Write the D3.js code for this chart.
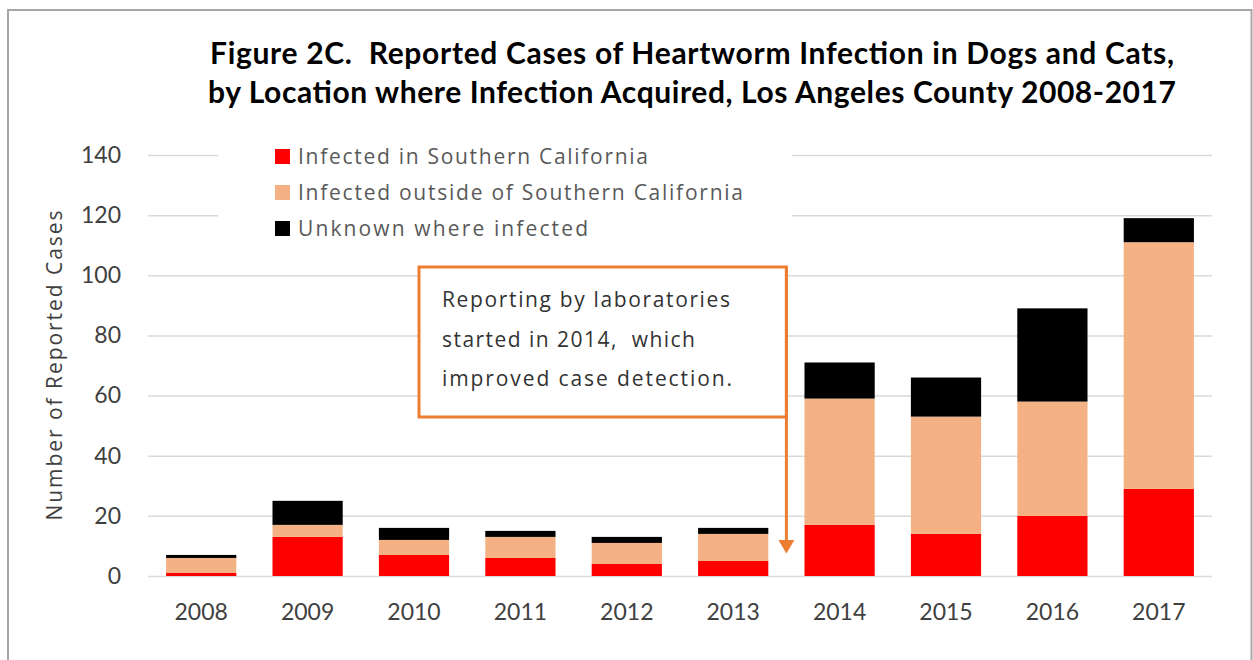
<!DOCTYPE html>
<html>
<head>
<meta charset="utf-8">
<script src="https://cdn.jsdelivr.net/npm/d3@7"></script>
<style>
  html, body { margin: 0; padding: 0; background: #fff; }
  svg { display: block; }
  svg text { white-space: pre; }
</style>
</head>
<body>
<div id="chart"></div>
<script>
// Heartworm cases by where the infection was acquired, LA County 2008-2017
const years = ['2008', '2009', '2010', '2011', '2012', '2013', '2014', '2015', '2016', '2017'];
const inSoCal = [1, 13, 7, 6, 4, 5, 17, 14, 20, 29];
const outsideSoCal = [5, 4, 5, 7, 7, 9, 42, 39, 38, 82];
const unknown = [1, 8, 4, 2, 2, 2, 12, 13, 31, 8];
const seriesNames = ['Infected in Southern California', 'Infected outside of Southern California', 'Unknown where infected'];
const seriesColors = ['#ff0000', '#f4b183', '#000000'];
const yTicks = [0, 20, 40, 60, 80, 100, 120, 140];
const titleLines = [
  'Figure 2C.  Reported Cases of Heartworm Infection in Dogs and Cats,',
  'by Location where Infection Acquired, Los Angeles County 2008-2017'
];
const noteLines = ['Reporting by laboratories', 'started in 2014,  which', 'improved case detection.'];

const titleWidths = [964, 968];
const legendWidths = [350, 445, 290];
const noteWidths = [288, 253, 290];

const W = 1253, H = 660;
const FONT = 'Lato, "Open Sans", sans-serif';
const WIDE = '"Open Sans", Lato, sans-serif';
const plot = { left: 148, right: 1212, top: 155, bottom: 576 };

const svg = d3.select('#chart').append('svg')
  .attr('width', W).attr('height', H)
  .attr('font-family', FONT);

svg.append('rect').attr('width', W).attr('height', H).attr('fill', '#fff');

// outer frame (bottom edge runs off the picture)
svg.append('rect')
  .attr('x', 8).attr('y', 10)
  .attr('width', 1243.5).attr('height', H + 10)
  .attr('fill', 'none').attr('stroke', '#a6a6a6').attr('stroke-width', 2);

const x = d3.scaleBand()
  .domain(years)
  .range([plot.left, plot.right])
  .paddingInner(0.34)
  .paddingOuter(0.17);

const y = d3.scaleLinear()
  .domain([0, 140])
  .range([plot.bottom, plot.top]);

// y axis with gridlines
const yAxis = svg.append('g')
  .attr('transform', `translate(${plot.left},0)`)
  .call(d3.axisLeft(y).tickValues(yTicks).tickSize(-(plot.right - plot.left)).tickPadding(27));
yAxis.select('.domain').remove();
yAxis.selectAll('.tick line').attr('stroke', '#d9d9d9').attr('stroke-width', 1.5);
yAxis.selectAll('.tick text')
  .attr('fill', '#404040').attr('font-size', 23).attr('font-family', FONT);

// x axis labels
const xAxis = svg.append('g')
  .attr('transform', `translate(0,${plot.bottom})`)
  .call(d3.axisBottom(x).tickSize(0).tickPadding(28));
xAxis.select('.domain').remove();
xAxis.selectAll('.tick text')
  .attr('fill', '#404040').attr('font-size', 23).attr('font-family', FONT);

// stacked bars
const rows = years.map((yr, i) => ({ year: yr, s0: inSoCal[i], s1: outsideSoCal[i], s2: unknown[i] }));
const stacked = d3.stack().keys(['s0', 's1', 's2'])(rows);

svg.append('g').selectAll('g')
  .data(stacked)
  .join('g')
  .attr('fill', (d, i) => seriesColors[i])
  .selectAll('rect')
  .data(d => d)
  .join('rect')
  .attr('x', d => x(d.data.year))
  .attr('width', x.bandwidth())
  .attr('y', d => y(d[1]))
  .attr('height', d => y(d[0]) - y(d[1]));

// y axis title
svg.append('text')
  .attr('transform', `translate(62,${(plot.top + plot.bottom) / 2}) rotate(-90)`)
  .attr('x', -155)
  .attr('font-family', WIDE)
  .attr('fill', '#404040').attr('font-size', 21)
  .attr('textLength', 310).attr('lengthAdjust', 'spacing')
  .text('Number of Reported Cases');

// title
svg.append('g').selectAll('text')
  .data(titleLines)
  .join('text')
  .attr('x', (d, i) => 692 - titleWidths[i] / 2)
  .attr('y', (d, i) => 64 + i * 39)
  .attr('font-size', 30).attr('font-weight', 700).attr('fill', '#000')
  .attr('textLength', (d, i) => titleWidths[i]).attr('lengthAdjust', 'spacing')
  .text(d => d);

// legend (white box hides the grid behind it)
const legend = svg.append('g');
legend.append('rect')
  .attr('x', 218).attr('y', 140).attr('width', 574).attr('height', 105)
  .attr('fill', '#fff');
const li = legend.selectAll('g.item')
  .data(seriesNames)
  .join('g').attr('class', 'item')
  .attr('transform', (d, i) => `translate(275,${149 + i * 36})`);
li.append('rect')
  .attr('width', 15).attr('height', 15)
  .attr('fill', (d, i) => seriesColors[i]);
li.append('text')
  .attr('x', 23).attr('y', 15)
  .attr('font-family', WIDE)
  .attr('fill', '#595959').attr('font-size', 21)
  .attr('textLength', (d, i) => legendWidths[i]).attr('lengthAdjust', 'spacing')
  .text(d => d);

// annotation box + arrow pointing down between 2013 and 2014
const arrowX = (x('2013') + x.bandwidth() + x('2014')) / 2;
const note = svg.append('g');
note.append('rect')
  .attr('x', 419).attr('y', 267).attr('width', arrowX - 419).attr('height', 150)
  .attr('fill', '#fff').attr('stroke', '#ed7d31').attr('stroke-width', 3);
note.append('line')
  .attr('x1', arrowX).attr('x2', arrowX)
  .attr('y1', 267).attr('y2', y(12))
  .attr('stroke', '#ed7d31').attr('stroke-width', 3);
note.append('path')
  .attr('d', `M${arrowX - 8},${y(12)} L${arrowX + 8},${y(12)} L${arrowX},${y(7.5)} Z`)
  .attr('fill', '#ed7d31');
note.selectAll('text')
  .data(noteLines)
  .join('text')
  .attr('x', 442)
  .attr('y', (d, i) => 307 + i * 39.5)
  .attr('font-family', WIDE)
  .attr('fill', '#333').attr('font-size', 21)
  .attr('textLength', (d, i) => noteWidths[i]).attr('lengthAdjust', 'spacing')
  .text(d => d);
</script>
</body>
</html>
